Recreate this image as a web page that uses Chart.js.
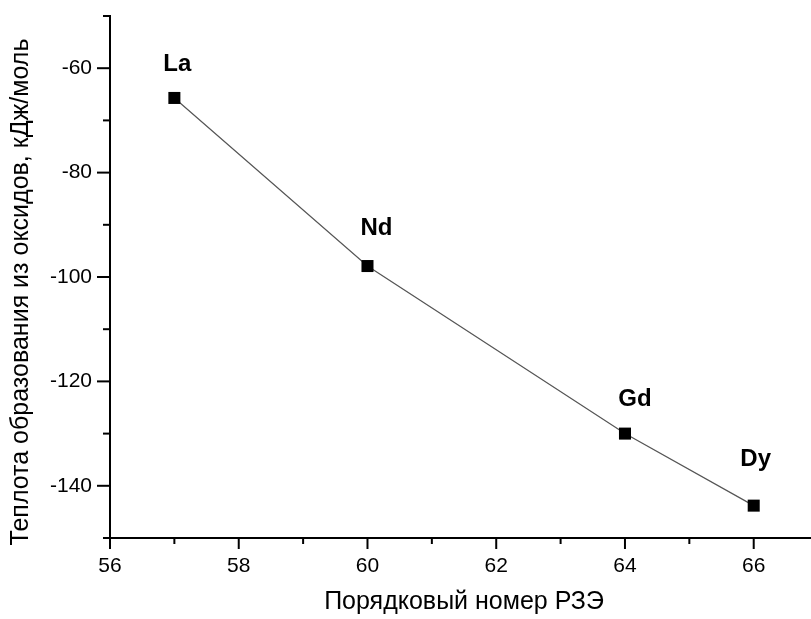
<!DOCTYPE html>
<html><head><meta charset="utf-8">
<script src="https://cdn.jsdelivr.net/npm/chart.js@4/dist/chart.umd.min.js"></script>
<style>html,body{margin:0;padding:0;background:#fff}#wrap{width:811px;height:619px}</style>
</head><body><div id="wrap"><canvas id="c" width="811" height="619"></canvas></div>
<script>
const atomicNumbers = [57, 60, 64, 66];
const heatValues = [-65.7, -97.9, -130.0, -143.8];
const elementLabels = ['La', 'Nd', 'Gd', 'Dy'];
const xTickLabels = [56, 58, 60, 62, 64, 66];
const yTickLabels = [-60, -80, -100, -120, -140];
const xTitle = 'Порядковый номер РЗЭ';
const yTitle = 'Теплота образования из оксидов, кДж/моль';

const FONT = '"Liberation Sans", Arial, sans-serif';
const labelOffsets = [[3, -34], [9, -38], [10, -34], [2, -46]];

const decor = {
  id: 'decor',
  afterDraw(chart) {
    const ctx = chart.ctx, xs = chart.scales.x, ys = chart.scales.y;
    const ca = chart.chartArea;
    ctx.save();
    ctx.strokeStyle = '#000';
    ctx.lineWidth = 2;
    for (let v = 56; v <= 66; v++) {
      const px = xs.getPixelForValue(v);
      const len = (v % 2 === 0) ? 11 : 6;
      ctx.beginPath(); ctx.moveTo(px, ca.bottom); ctx.lineTo(px, ca.bottom + len); ctx.stroke();
    }
    for (let v = -150; v <= -50; v += 10) {
      const py = ys.getPixelForValue(v);
      const len = (v % 20 === 0) ? 13 : 7;
      ctx.beginPath(); ctx.moveTo(ca.left, py); ctx.lineTo(ca.left - len, py); ctx.stroke();
    }
    ctx.fillStyle = '#000';
    ctx.font = 'bold 24px ' + FONT;
    ctx.textAlign = 'center';
    ctx.textBaseline = 'middle';
    const meta = chart.getDatasetMeta(0);
    meta.data.forEach((pt, i) => {
      const o = labelOffsets[i];
      ctx.fillText(elementLabels[i], pt.x + o[0], pt.y + o[1]);
    });
    ctx.font = '25px ' + FONT;
    ctx.fillText(xTitle, 464, 602);
    ctx.translate(21, 292);
    ctx.rotate(-Math.PI / 2);
    ctx.fillText(yTitle, 0, 0);
    ctx.restore();
  }
};

new Chart(document.getElementById('c'), {
  type: 'line',
  data: {
    datasets: [{
      data: atomicNumbers.map((x, i) => ({x, y: heatValues[i]})),
      borderColor: '#555',
      borderWidth: 1.2,
      pointStyle: 'rect',
      pointRadius: 8.5,
      pointHoverRadius: 8.5,
      pointBackgroundColor: '#000',
      pointBorderColor: '#000',
      pointBorderWidth: 0,
      tension: 0
    }]
  },
  options: {
    responsive: false,
    animation: false,
    events: [],
    layout: { autoPadding: false, padding: { top: 16, right: 0, left: 0, bottom: 0 } },
    plugins: { legend: { display: false }, tooltip: { enabled: false } },
    scales: {
      x: {
        type: 'linear', min: 56, max: 66.89,
        afterFit: s => { s.height = 81; s.paddingLeft = 0; s.paddingRight = 0; },
        afterBuildTicks: s => { s.ticks = xTickLabels.map(v => ({value: v})); },
        grid: { display: false, drawTicks: false },
        border: { display: true, color: '#000', width: 2 },
        ticks: { color: '#000', font: { family: FONT, size: 21 }, padding: 16, maxRotation: 0, autoSkip: false }
      },
      y: {
        type: 'linear', min: -150, max: -50,
        afterFit: s => { s.width = 110; s.paddingTop = 0; s.paddingBottom = 0; },
        afterBuildTicks: s => { s.ticks = yTickLabels.map(v => ({value: v})); },
        grid: { display: false, drawTicks: false },
        border: { display: true, color: '#000', width: 2 },
        ticks: { color: '#000', font: { family: FONT, size: 21 }, padding: 18, autoSkip: false }
      }
    }
  },
  plugins: [decor]
});
</script></body></html>
